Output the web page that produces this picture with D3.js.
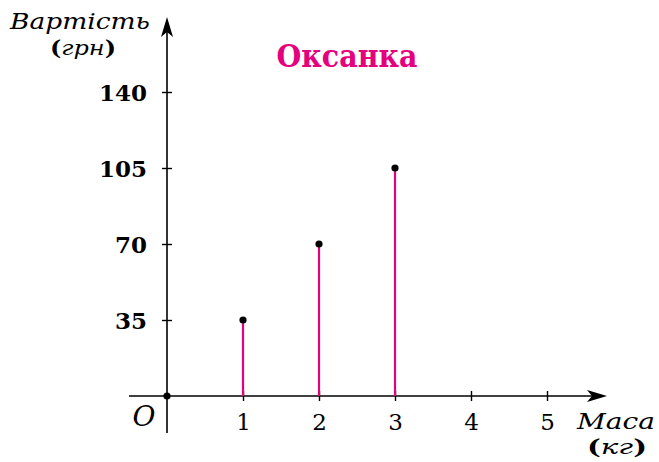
<!DOCTYPE html>
<html><head><meta charset="utf-8">
<script src="https://cdn.jsdelivr.net/npm/d3@7"></script>
<style>
html,body{margin:0;padding:0;background:#fff;}
svg{display:block;}
</style></head>
<body>
<svg id="c" width="659" height="462"></svg>
<script>
const masses = [1, 2, 3];
const costs = [35, 70, 105];
const xTicks = [1, 2, 3, 4, 5];
const yTicks = [35, 70, 105, 140];
const title = "Оксанка";
const yLabel = "Вартість";
const yUnit = "грн";
const xLabel = "Маса";
const xUnit = "кг";
const originLabel = "O";

const pink = "#E5007D";
const svg = d3.select("#c");
const x = d3.scaleLinear().domain([0, 5]).range([167, 547]);
const y = d3.scaleLinear().domain([0, 140]).range([396, 92]);
const serif = "'DejaVu Serif', serif";

// axis lines
svg.append("line").attr("x1", 129).attr("x2", 600).attr("y1", y(0)).attr("y2", y(0))
  .attr("stroke", "#000").attr("stroke-width", 1.6);
svg.append("line").attr("x1", x(0)).attr("x2", x(0)).attr("y1", 433).attr("y2", 25)
  .attr("stroke", "#000").attr("stroke-width", 1.6);
// arrowheads
const ax = 607, ay = y(0);
svg.append("path").attr("d", `M${ax},${ay} L${ax-20},${ay-6} L${ax-15},${ay} L${ax-20},${ay+6} Z`).attr("fill", "#000");
const bx = x(0), by = 17;
svg.append("path").attr("d", `M${bx},${by} L${bx-6},${by+20} L${bx},${by+15} L${bx+6},${by+20} Z`).attr("fill", "#000");

// x axis
const gx = svg.append("g").attr("transform", `translate(0,${y(0)})`)
  .call(d3.axisBottom(x).tickValues(xTicks).tickSize(5).tickPadding(18).tickFormat(d3.format("d")));
gx.select(".domain").remove();
gx.selectAll(".tick line").attr("y1", -5).attr("y2", 5).attr("stroke-width", 1.4);
gx.selectAll(".tick text").attr("font-family", serif).attr("font-size", 23)
  .attr("fill", "#000").attr("y", 34).attr("dy", "0");

// y axis
const gy = svg.append("g").attr("transform", `translate(${x(0)},0)`)
  .call(d3.axisLeft(y).tickValues(yTicks).tickSize(5).tickPadding(15).tickFormat(d3.format("d")));
gy.select(".domain").remove();
gy.selectAll(".tick line").attr("x1", -5).attr("x2", 5).attr("stroke-width", 1.4);
gy.selectAll(".tick text").attr("font-family", serif).attr("font-size", 23).attr("font-weight", "bold")
  .attr("fill", "#000").attr("dy", "0.36em");

// stems
const data = masses.map((m, i) => ({m, c: costs[i]}));
svg.selectAll("line.stem").data(data).join("line").attr("class", "stem")
  .attr("x1", d => x(d.m)).attr("x2", d => x(d.m))
  .attr("y1", y(0)).attr("y2", d => y(d.c))
  .attr("stroke", pink).attr("stroke-width", 2.2);
svg.selectAll("circle.pt").data(data).join("circle").attr("class", "pt")
  .attr("cx", d => x(d.m)).attr("cy", d => y(d.c)).attr("r", 3.6).attr("fill", "#000");
svg.append("circle").attr("cx", x(0)).attr("cy", y(0)).attr("r", 3.6).attr("fill", "#000");

// title
svg.append("text").attr("x", 347).attr("y", 67).attr("text-anchor", "middle")
  .attr("font-family", serif).attr("font-weight", "bold").attr("font-size", 31)
  .attr("fill", pink).attr("textLength", 141).attr("lengthAdjust", "spacingAndGlyphs").text(title);

// origin label
svg.append("text").attr("x", 144).attr("y", 426).attr("text-anchor", "middle")
  .attr("font-family", serif).attr("font-style", "italic").attr("font-size", 28)
  .attr("fill", "#000").text(originLabel);

function unitLabel(cx, cy, unit, w) {
  const t = svg.append("text").attr("x", cx).attr("y", cy).attr("text-anchor", "middle")
    .attr("font-family", serif).attr("font-size", 21).attr("fill", "#000")
    .attr("textLength", w).attr("lengthAdjust", "spacingAndGlyphs");
  t.append("tspan").attr("font-weight", "bold").text("(");
  t.append("tspan").attr("font-style", "italic").text(unit);
  t.append("tspan").attr("font-weight", "bold").text(")");
}
// y label
svg.append("text").attr("x", 80).attr("y", 29).attr("text-anchor", "middle")
  .attr("font-family", serif).attr("font-style", "italic").attr("font-size", 22)
  .attr("fill", "#000").attr("textLength", 140).attr("lengthAdjust", "spacingAndGlyphs").text(yLabel);
unitLabel(83, 55, yUnit, 66);
// x label
svg.append("text").attr("x", 616).attr("y", 429).attr("text-anchor", "middle")
  .attr("font-family", serif).attr("font-style", "italic").attr("font-size", 22)
  .attr("fill", "#000").attr("textLength", 78).attr("lengthAdjust", "spacingAndGlyphs").text(xLabel);
unitLabel(617, 454, xUnit, 60);
</script>
</body></html>
